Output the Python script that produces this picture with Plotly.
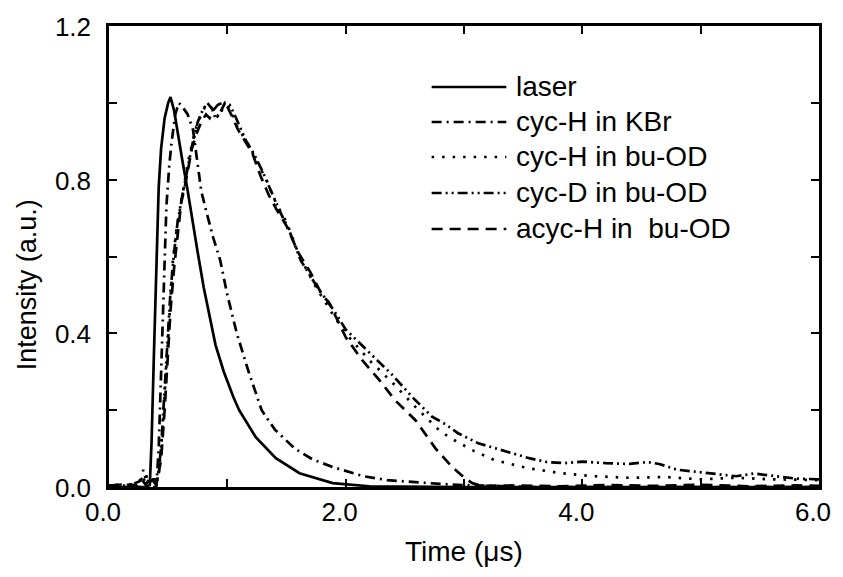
import plotly.graph_objects as go

# ---------------- data ----------------
laser_t = [0.0, 0.10, 0.20, 0.30, 0.345, 0.36, 0.38, 0.40, 0.42, 0.44, 0.47, 0.50, 0.52, 0.55, 0.58,
           0.62, 0.66, 0.70, 0.75, 0.80, 0.85, 0.90, 0.97, 1.05, 1.10, 1.24, 1.41, 1.61, 1.89, 2.2,
           3.0, 4.0, 5.0, 6.0]
laser_v = [0.0, 0.0, 0.0, 0.0, 0.005, 0.12, 0.35, 0.60, 0.78, 0.88, 0.96, 1.0, 1.015, 0.98, 0.92,
           0.85, 0.78, 0.70, 0.61, 0.52, 0.44, 0.37, 0.30, 0.235, 0.20, 0.13, 0.075, 0.036, 0.01, 0.002,
           0.0, 0.0, 0.0, 0.0]

kbr_t = [0.0, 0.38, 0.40, 0.42, 0.44, 0.46, 0.485, 0.51, 0.53, 0.56, 0.59, 0.62, 0.665, 0.71,
         0.75, 0.78, 0.82, 0.88, 0.94, 1.0, 1.08, 1.18, 1.29, 1.40, 1.57, 1.72, 1.89, 2.0, 2.15,
         2.35, 2.56, 2.8, 3.0, 3.3, 3.6, 4.0, 5.0, 6.0]
kbr_v = [0.0, 0.0, 0.0, 0.10, 0.30, 0.50, 0.73, 0.84, 0.90, 0.97, 1.0, 0.99, 0.97, 0.93,
         0.83, 0.77, 0.72, 0.65, 0.59, 0.50, 0.40, 0.30, 0.20, 0.15, 0.10, 0.072, 0.052, 0.042, 0.028,
         0.018, 0.013, 0.008, 0.005, 0.002, 0.0, 0.0, 0.0, 0.0]

cych_t = [0.0, 0.05, 0.10, 0.15, 0.20, 0.24, 0.27, 0.29, 0.30, 0.32, 0.34, 0.36, 0.39, 0.42, 0.45,
          0.48, 0.50, 0.52, 0.54, 0.57, 0.61, 0.64, 0.67, 0.70, 0.74, 0.78, 0.82, 0.86, 0.90, 0.93,
          0.96, 1.0, 1.04, 1.08, 1.14, 1.19, 1.26, 1.33, 1.41, 1.50, 1.61, 1.75, 1.89, 2.0, 2.2,
          2.4, 2.6, 2.8, 2.9, 3.07, 3.26, 3.54, 3.82, 4.1, 4.4, 4.7, 5.0, 5.3, 5.6, 6.0]
cych_v = [0.004, 0.002, 0.006, 0.003, 0.008, 0.012, 0.02, 0.045, 0.01, 0.03, 0.01, 0.02, 0.01, 0.03, 0.14,
          0.29, 0.39, 0.49, 0.59, 0.67, 0.74, 0.79, 0.85, 0.89, 0.94, 0.97, 0.995, 0.99, 0.97, 0.96,
          0.985, 0.995, 0.975, 0.94, 0.91, 0.885, 0.84, 0.80, 0.74, 0.69, 0.60, 0.52, 0.45, 0.40, 0.33,
          0.27, 0.205, 0.145, 0.125, 0.096, 0.07, 0.049, 0.036, 0.028, 0.024, 0.026, 0.02, 0.024, 0.02, 0.018]

cycd_t = [0.0, 0.08, 0.16, 0.22, 0.26, 0.30, 0.33, 0.37, 0.41, 0.44, 0.47, 0.50, 0.52, 0.55, 0.58,
          0.62, 0.65, 0.68, 0.71, 0.75, 0.79, 0.83, 0.87, 0.90, 0.94, 0.98, 1.02, 1.06, 1.10, 1.16,
          1.22, 1.30, 1.37, 1.44, 1.52, 1.62, 1.76, 1.90, 2.0, 2.2, 2.4, 2.56, 2.73, 2.84, 2.95,
          3.12, 3.27, 3.40, 3.55, 3.70, 3.85, 4.0, 4.2, 4.4, 4.55, 4.65, 4.8, 4.95, 5.1, 5.3,
          5.45, 5.6, 5.8, 6.0]
cycd_v = [0.003, 0.006, 0.002, 0.01, 0.015, 0.03, 0.008, 0.02, 0.02, 0.10, 0.25, 0.41, 0.51, 0.61, 0.69,
          0.76, 0.81, 0.86, 0.90, 0.95, 0.98, 1.0, 0.985, 0.96, 0.975, 1.0, 0.995, 0.97, 0.94, 0.90,
          0.87, 0.82, 0.77, 0.72, 0.67, 0.59, 0.52, 0.46, 0.41, 0.35, 0.29, 0.235, 0.183, 0.164, 0.14,
          0.114, 0.10, 0.088, 0.075, 0.065, 0.062, 0.066, 0.062, 0.060, 0.065, 0.060, 0.045, 0.040, 0.035, 0.028,
          0.035, 0.030, 0.022, 0.020]

acyc_t = [0.0, 0.06, 0.12, 0.18, 0.23, 0.28, 0.31, 0.35, 0.40, 0.44, 0.47, 0.50, 0.52, 0.55, 0.58,
          0.61, 0.64, 0.67, 0.70, 0.74, 0.78, 0.82, 0.85, 0.88, 0.92, 0.96, 1.0, 1.04, 1.09, 1.15,
          1.21, 1.28, 1.35, 1.42, 1.50, 1.60, 1.70, 1.80, 1.86, 2.0, 2.14, 2.28, 2.42, 2.59, 2.76,
          2.90, 3.0, 3.07, 3.15, 3.4, 3.8, 4.2, 4.6, 5.0, 5.4, 5.8, 6.0]
acyc_v = [0.002, 0.005, 0.003, 0.007, 0.004, 0.018, 0.006, 0.025, 0.005, 0.07, 0.20, 0.36, 0.46, 0.57, 0.66,
          0.74, 0.78, 0.83, 0.88, 0.92, 0.95, 0.97, 0.96, 0.98, 0.995, 1.0, 0.99, 0.965, 0.93, 0.90,
          0.87, 0.81, 0.76, 0.72, 0.68, 0.61, 0.56, 0.50, 0.48, 0.39, 0.33, 0.28, 0.225, 0.174, 0.10,
          0.052, 0.025, 0.01, 0.003, 0.004, 0.002, 0.005, 0.003, 0.006, 0.002, 0.004, 0.003]

series_names = ["laser", "cyc-H in KBr", "cyc-H in bu-OD", "cyc-D in bu-OD", "acyc-H in\u00a0 bu-OD"]
series_t = [laser_t, kbr_t, cych_t, cycd_t, acyc_t]
series_v = [laser_v, kbr_v, cych_v, cycd_v, acyc_v]

x_tickvals = [0, 1, 2, 3, 4, 5, 6]
x_ticktext = ["0.0", "", "2.0", "", "4.0", "", "6.0"]
y_tickvals = [0, 0.2, 0.4, 0.6, 0.8, 1.0, 1.2]
y_ticktext = ["0.0", "", "0.4", "", "0.8", "", "1.2"]

# ---------------- styling ----------------
dashes = ["solid", "10px,5px,2px,5px", "2.5px,8px", "10px,4px,2px,4px,2px,4px", "11px,7px"]
FONT = "Arial, Liberation Sans, sans-serif"
W, H = 843, 577
L, R, T, B = 109, 822, 26, 487


def px2paper_x(px):
    return (px - L) / (R - L)


def px2paper_y(py):
    return (B - py) / (B - T)


fig = go.Figure()
for name, t, v, d in zip(series_names, series_t, series_v, dashes):
    fig.add_trace(go.Scatter(x=t, y=v, mode="lines", name=name,
                             line=dict(color="black", width=2.7, dash=d),
                             showlegend=False))

# manual legend (long line samples like the reference)
legend_rows = [87, 122, 157, 193, 229]
shapes = []
annotations = []
for name, d, ry in zip(series_names, dashes, legend_rows):
    shapes.append(dict(type="line", xref="paper", yref="paper",
                       x0=px2paper_x(433), x1=px2paper_x(508),
                       y0=px2paper_y(ry), y1=px2paper_y(ry),
                       line=dict(color="black", width=2.5, dash=d)))
    annotations.append(dict(text=name, xref="paper", yref="paper",
                            x=px2paper_x(516), y=px2paper_y(ry - 1),
                            xanchor="left", yanchor="middle", showarrow=False,
                            font=dict(family=FONT, size=28, color="black")))

annotations.append(dict(text="Time (μs)", xref="paper", yref="paper",
                        x=px2paper_x(465), y=px2paper_y(551),
                        xanchor="center", yanchor="middle", showarrow=False,
                        font=dict(family=FONT, size=28, color="black")))
annotations.append(dict(text="Intensity (a.u.)", xref="paper", yref="paper",
                        x=px2paper_x(27), y=px2paper_y(285), textangle=-90,
                        xanchor="center", yanchor="middle", showarrow=False,
                        font=dict(family=FONT, size=27, color="black")))

axis_common = dict(showline=True, linecolor="black", linewidth=2.5, mirror="ticks",
                   ticks="inside", ticklen=8, tickwidth=2, tickcolor="black",
                   showgrid=False, zeroline=False,
                   tickfont=dict(family=FONT, size=26, color="black"))

fig.update_layout(
    width=W, height=H,
    margin=dict(l=L, r=W - R, t=T, b=H - B, pad=0),
    paper_bgcolor="white", plot_bgcolor="white",
    xaxis=dict(range=[0, 6], tickvals=x_tickvals, ticktext=x_ticktext,
               ticklabelstandoff=0, ticklabelshift=-6, **axis_common),
    yaxis=dict(range=[0, 1.2], tickvals=y_tickvals, ticktext=y_ticktext,
               ticklabelstandoff=10, ticklabelshift=1, **axis_common),
    shapes=shapes, annotations=annotations,
    showlegend=False,
)

fig.write_html("out.html")
